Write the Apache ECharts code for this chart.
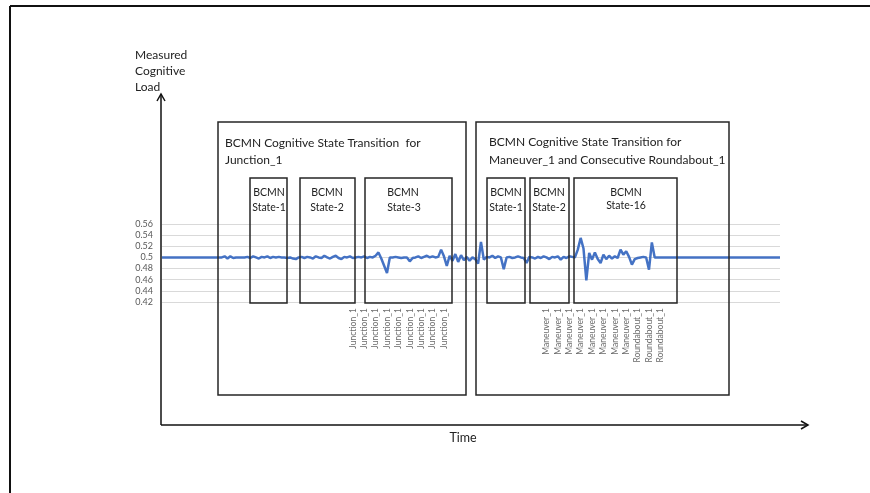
<!DOCTYPE html>
<html>
<head>
<meta charset="utf-8">
<script src="https://cdn.jsdelivr.net/npm/echarts@6/dist/echarts.min.js"></script>
<style>
html, body { margin: 0; padding: 0; background: #fff; }
#chart { width: 870px; height: 493px; }
</style>
</head>
<body>
<div id="chart"></div>
<script>
// measured cognitive load, one value per time step
const loadValues = [
  0.5, 0.5, 0.5, 0.5, 0.5, 0.5, 0.5, 0.5, 0.5, 0.5,
  0.5, 0.5, 0.5, 0.5, 0.5, 0.5, 0.5, 0.5, 0.5, 0.5,
  0.5, 0.5, 0.502, 0.498, 0.502, 0.499, 0.5, 0.5, 0.5, 0.5,
  0.501, 0.499, 0.502, 0.5, 0.498, 0.501, 0.5, 0.502, 0.499, 0.501,
  0.5, 0.501, 0.5, 0.5, 0.499, 0.5, 0.498, 0.497, 0.5, 0.501,
  0.499, 0.501, 0.5, 0.498, 0.502, 0.5, 0.499, 0.503, 0.5, 0.498,
  0.501, 0.503, 0.499, 0.497, 0.501, 0.5, 0.502, 0.499, 0.5, 0.501,
  0.5, 0.502, 0.499, 0.501, 0.5, 0.503, 0.509, 0.498, 0.485, 0.472,
  0.5, 0.5, 0.501, 0.5, 0.499, 0.5, 0.5, 0.493, 0.499, 0.5,
  0.502, 0.499, 0.501, 0.503, 0.5, 0.502, 0.5, 0.501, 0.514, 0.502,
  0.485, 0.503, 0.494, 0.506, 0.492, 0.504, 0.495, 0.501, 0.494, 0.5,
  0.497, 0.489, 0.528, 0.496, 0.501, 0.5, 0.503, 0.499, 0.502, 0.5,
  0.479, 0.5, 0.501, 0.499, 0.5, 0.502, 0.5, 0.499, 0.49, 0.501,
  0.5, 0.498, 0.501, 0.499, 0.502, 0.5, 0.497, 0.501, 0.5, 0.502,
  0.496, 0.501, 0.499, 0.502, 0.501, 0.5, 0.514, 0.535, 0.516, 0.459,
  0.508, 0.496, 0.509, 0.497, 0.49, 0.505, 0.497, 0.503, 0.498, 0.502,
  0.499, 0.514, 0.505, 0.511, 0.501, 0.487, 0.497, 0.499, 0.5, 0.501,
  0.5, 0.478, 0.527, 0.5, 0.5, 0.5, 0.5, 0.5, 0.5, 0.5,
  0.5, 0.5, 0.5, 0.5, 0.5, 0.5, 0.5, 0.5, 0.5, 0.5,
  0.5, 0.5, 0.5, 0.5, 0.5, 0.5, 0.5, 0.5, 0.5, 0.5,
  0.5, 0.5, 0.5, 0.5, 0.5, 0.5, 0.5, 0.5, 0.5, 0.5,
  0.5, 0.5, 0.5, 0.5, 0.5, 0.5, 0.5, 0.5
]

// time steps that carry a label on the x axis
const junctionTicks = [67, 71, 75, 79, 83, 87, 91, 95, 99]
const maneuverTicks = [135, 139, 143, 147, 151, 155, 159, 163]
const roundaboutTicks = [167, 171, 175]

const yMin = 0.42
const yMax = 0.56
const yStep = 0.02

const categories = loadValues.map((v, i) => String(i))
const tickNames = {}
junctionTicks.forEach(i => { tickNames[i] = 'Junction_1' })
maneuverTicks.forEach(i => { tickNames[i] = 'Maneuver_1' })
roundaboutTicks.forEach(i => { tickNames[i] = 'Roundabout_1' })

const font = 'Lato, "Open Sans", sans-serif'
const ink = '#262626'

function box(x, y, w, h) {
  return {
    type: 'rect',
    shape: { x: x, y: y, width: w, height: h },
    style: { fill: 'none', stroke: ink, lineWidth: 1.5 },
    z: 10
  }
}
function label(text, x, y, size, align) {
  return {
    type: 'text',
    x: x,
    y: y,
    style: {
      text: text,
      font: size + 'px ' + font,
      fill: '#222',
      align: align || 'left',
      verticalAlign: 'middle'
    },
    z: 11
  }
}
function line(x1, y1, x2, y2, w) {
  return {
    type: 'line',
    shape: { x1: x1, y1: y1, x2: x2, y2: y2 },
    style: { stroke: '#111', lineWidth: w || 1.5 },
    z: 12
  }
}

const chart = echarts.init(document.getElementById('chart'))
chart.setOption({
  animation: false,
  grid: { left: 162, right: 90, top: 224, bottom: 191 },
  xAxis: {
    type: 'category',
    data: categories,
    boundaryGap: false,
    axisLine: { show: false },
    axisTick: { show: false },
    axisLabel: {
      interval: 0,
      rotate: 90,
      margin: 6,
      fontSize: 8.5,
      fontFamily: font,
      color: '#6b6b6b',
      formatter: v => tickNames[v] || ''
    }
  },
  yAxis: {
    type: 'value',
    min: yMin,
    max: yMax,
    interval: yStep,
    axisLine: { show: false },
    axisTick: { show: false },
    axisLabel: { fontSize: 9, fontFamily: font, color: '#595959', margin: 9 },
    splitLine: { lineStyle: { color: '#d9d9d9', width: 1 } }
  },
  series: [{
    type: 'line',
    data: loadValues,
    showSymbol: false,
    lineStyle: { color: '#4472c4', width: 2.5 },
    z: 5
  }],
  graphic: [
    // page frame
    line(10, 6, 870, 6, 2),
    line(10, 6, 10, 493, 2),
    // axes with arrow heads
    line(161, 425, 161, 94),
    { type: 'polyline', shape: { points: [[157, 101], [161, 94], [165, 101]] }, style: { stroke: '#111', lineWidth: 1.5, fill: 'none' }, z: 12 },
    line(161, 425, 808, 425),
    { type: 'polyline', shape: { points: [[801, 421], [808, 425], [801, 429]] }, style: { stroke: '#111', lineWidth: 1.5, fill: 'none' }, z: 12 },
    label('Measured', 135, 55, 12),
    label('Cognitive', 135, 71, 12),
    label('Load', 135, 87, 12),
    label('Time', 463, 438, 12.5, 'center'),
    // junction block
    box(218, 122, 248, 273),
    label('BCMN Cognitive State Transition  for', 225, 143, 12),
    label('Junction_1', 225, 160, 12),
    box(250, 178, 37, 125),
    label('BCMN', 269, 193, 10.5, 'center'),
    label('State-1', 269, 208, 10.5, 'center'),
    box(300, 178, 55, 125),
    label('BCMN', 327, 193, 10.5, 'center'),
    label('State-2', 327, 208, 10.5, 'center'),
    box(365, 178, 87, 125),
    label('BCMN', 403, 193, 10.5, 'center'),
    label('State-3', 404, 208, 10.5, 'center'),
    // maneuver + roundabout block
    box(476, 122, 253, 273),
    label('BCMN Cognitive State Transition for', 489, 142, 12),
    label('Maneuver_1 and Consecutive Roundabout_1', 489, 160, 12),
    box(487, 178, 38, 125),
    label('BCMN', 506, 193, 10.5, 'center'),
    label('State-1', 506, 208, 10.5, 'center'),
    box(530, 178, 39, 125),
    label('BCMN', 549, 193, 10.5, 'center'),
    label('State-2', 549, 208, 10.5, 'center'),
    box(574, 178, 103, 125),
    label('BCMN', 626, 193, 10.5, 'center'),
    label('State-16', 626, 206, 10.5, 'center')
  ]
})
</script>
</body>
</html>
